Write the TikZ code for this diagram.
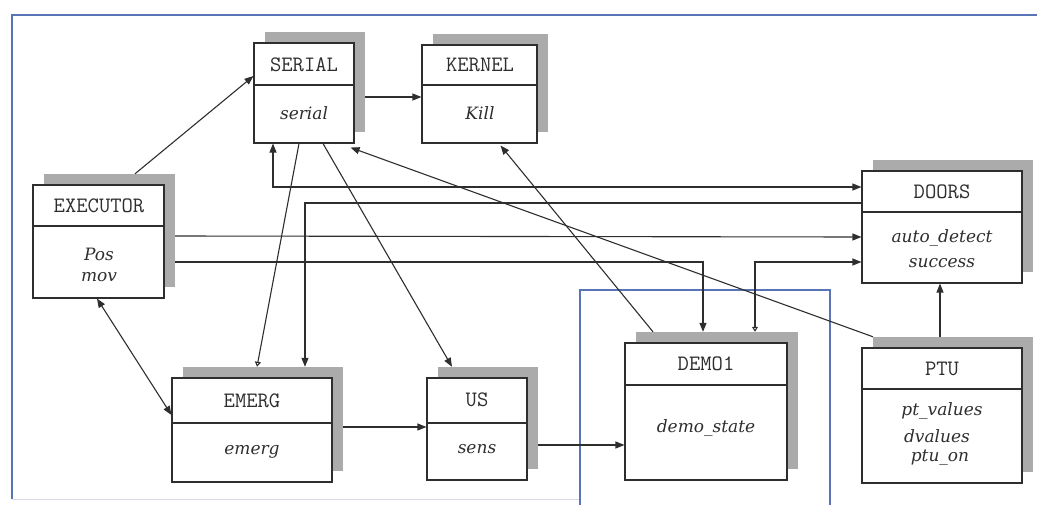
\documentclass[tikz,border=0pt]{standalone}
\usepackage{fontspec}
\newfontfamily\bodyfont{DejaVu Serif}
\usetikzlibrary{arrows.meta,fit}
\definecolor{ln}{HTML}{2E2E2E}
\definecolor{shd}{HTML}{ABABAB}
\definecolor{frameblue}{HTML}{5A74B8}
\definecolor{framelight}{HTML}{D8DCE8}
\tikzset{
  box/.style={draw=ln, line width=1.1pt, fill=white, inner sep=0pt},
  shad/.style={fill=shd, inner sep=0pt},
  ttl/.style={font=\ttfamily\fontsize{22}{22}\selectfont\addfontfeature{LetterSpace=10}, text=ln, inner sep=0pt},
  bdy/.style={font=\bodyfont\itshape\fontsize{17}{17}\selectfont, text=ln, inner sep=0pt},
  conn/.style={draw=ln, line width=1.1pt},
  >={Triangle[length=9pt,width=7pt]},
  opentip/.tip={Triangle[open,length=5pt,width=6pt]}
}
\newcommand{\umlbox}[6]{%
  \node[shad, fit={(#2+11,#3-11) (#4+11,#5-11)}] (#1-sh) {};
  \node[box, fit={(#2,#3) (#4,#5)}] (#1) {};
  \draw[draw=ln, line width=1.1pt] (#1.west |- 0,#6) -- (#1.east |- 0,#6);
}
\begin{document}
\begin{tikzpicture}[x=1pt,y=-1pt]
\useasboundingbox (0,0) rectangle (1037,504);
% frames
\draw[frameblue, line width=1.2pt] (1040,15) -- (12,15) -- (12,499);
\draw[framelight, line width=1pt] (12,499) -- (580,499);
\draw[frameblue, line width=1.2pt] (580,510) -- (580,290) -- (830,290) -- (830,510);
% boxes
\umlbox{ser}{254}{43}{354}{143}{85}
\umlbox{ker}{422}{45}{537}{143}{85}
\umlbox{exe}{33}{185}{164}{298}{226}
\umlbox{emg}{172}{378}{332}{482}{423}
\umlbox{us}{427}{378}{527}{480}{423}
\umlbox{dem}{625}{343}{787}{480}{385}
\umlbox{dor}{862}{171}{1022}{283}{212}
\umlbox{ptu}{862}{348}{1022}{483}{389}
% texts
\node[ttl] (ser-t) at (304,65) {SERIAL};
\node[bdy] (ser-b) at (304,113) {serial};
\node[ttl] (ker-t) at (480,65) {KERNEL};
\node[bdy] (ker-b) at (480,113) {Kill};
\node[ttl] (exe-t) at (99,206) {EXECUTOR};
\node[bdy] (exe-b1) at (99,254) {Pos};
\node[bdy] (exe-b2) at (99,277) {mov};
\node[ttl] (emg-t) at (252,401) {EMERG};
\node[bdy] (emg-b) at (252,452) {emerg};
\node[ttl] (us-t) at (477,400) {US};
\node[bdy] (us-b) at (477,449) {sens};
\node[ttl] (dem-t) at (706,364) {DEMO1};
\node[bdy] (dem-b) at (706,428) {demo\_state};
\node[ttl] (dor-t) at (942,192) {DOORS};
\node[bdy] (dor-b1) at (942,238) {auto\_detect};
\node[bdy] (dor-b2) at (942,263) {success};
\node[ttl] (ptu-t) at (942,369) {PTU};
\node[bdy] (ptu-b1) at (942,411) {pt\_values};
\node[bdy] (ptu-b2) at (937,436) {dvalues};
\node[bdy] (ptu-b3) at (940,458) {ptu\_on};
% connectors
\draw[conn,->] (135,0 |- exe-sh.north) -- (ser.west |- 0,76);
\draw[conn,->] (ser-sh.east |- 0,97) -- (ker.west |- 0,97);
\draw[conn,<->] (273,0 |- ser.south) |- (dor.west |- 0,187);
\draw[conn,->] (dor.west |- 0,203) -| (305,0 |- emg-sh.north);
\draw[conn,->] (exe-sh.east |- 0,236) -- (dor.west |- 0,237);
\draw[conn,->] (exe-sh.east |- 0,262) -| (703,0 |- dem-sh.north);
\draw[conn,opentip->] (755,0 |- dem-sh.north) |- (dor.west |- 0,262);
\draw[conn,-opentip] (299,0 |- ser.south) -- (257,0 |- emg-sh.north);
\draw[conn,->] (323,0 |- ser.south) -- (452,0 |- us-sh.north);
\draw[conn,->] (873,0 |- ptu-sh.north) -- ([shift={(-4,4)}]ser.south east);
\draw[conn,->] (653,0 |- dem-sh.north) -- ([shift={(-37,2)}]ker.south east);
\draw[conn,->] (940,0 |- ptu-sh.north) -- (940,0 |- dor.south);
\draw[conn,<->] (97,0 |- exe.south) -- (emg.west |- 0,415);
\draw[conn,->] (emg-sh.east |- 0,427) -- (us.west |- 0,427);
\draw[conn,->] (us-sh.east |- 0,445) -- (dem.west |- 0,445);
\end{tikzpicture}
\end{document}
